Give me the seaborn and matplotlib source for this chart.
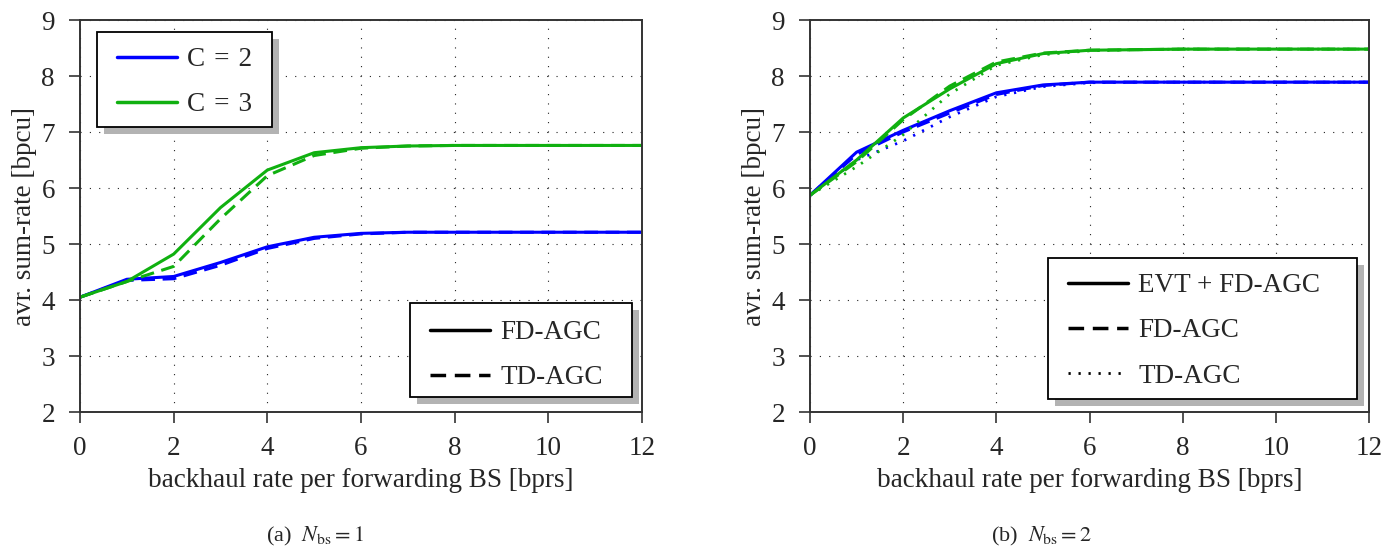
import matplotlib
matplotlib.use('Agg')
import matplotlib.pyplot as plt
import numpy as np
import pandas as pd
import seaborn as sns
from matplotlib.lines import Line2D
from matplotlib.patches import Rectangle
from matplotlib.transforms import IdentityTransform

# backhaul rate per forwarding BS [bprs]
rate = [0, 1, 2, 3, 4, 5, 6, 7, 8, 9, 10, 11, 12]

# (a) N_bs = 1
a_c2_fd = [4.05, 4.37, 4.42, 4.67, 4.95, 5.12, 5.19, 5.21, 5.21, 5.21, 5.21, 5.21, 5.21]
a_c2_td = [4.05, 4.35, 4.38, 4.62, 4.92, 5.10, 5.18, 5.21, 5.21, 5.21, 5.21, 5.21, 5.21]
a_c3_fd = [4.05, 4.33, 4.82, 5.65, 6.32, 6.63, 6.72, 6.75, 6.76, 6.76, 6.76, 6.76, 6.76]
a_c3_td = [4.05, 4.33, 4.60, 5.45, 6.22, 6.58, 6.71, 6.75, 6.76, 6.76, 6.76, 6.76, 6.76]

# (b) N_bs = 2
b_c2_evt = [5.87, 6.64, 7.03, 7.38, 7.70, 7.84, 7.89, 7.89, 7.89, 7.89, 7.89, 7.89, 7.89]
b_c2_fd = [5.87, 6.60, 7.00, 7.34, 7.67, 7.83, 7.89, 7.89, 7.89, 7.89, 7.89, 7.89, 7.89]
b_c2_td = [5.87, 6.50, 6.84, 7.27, 7.63, 7.81, 7.88, 7.89, 7.89, 7.89, 7.89, 7.89, 7.89]
b_c3_evt = [5.87, 6.50, 7.25, 7.77, 8.22, 8.40, 8.46, 8.47, 8.48, 8.48, 8.48, 8.48, 8.48]
b_c3_fd = [5.87, 6.47, 7.22, 7.82, 8.25, 8.41, 8.46, 8.47, 8.48, 8.48, 8.48, 8.48, 8.48]
b_c3_td = [5.87, 6.38, 6.95, 7.68, 8.19, 8.38, 8.45, 8.47, 8.48, 8.48, 8.48, 8.48, 8.48]

c_labels = ['C\u2004=\u20042', 'C\u2004=\u20043']
style_labels_a = ['FD-AGC', 'TD-AGC']
style_labels_b = ['EVT + FD-AGC', 'FD-AGC', 'TD-AGC']

blue = '#0000ff'
green = '#10b010'
styles = {'solid': '-', 'dash': (0, (4.5, 2.5)), 'dot': (0, (0.8, 2.8))}
widths = {'solid': 2.2, 'dash': 2.2, 'dot': 2.0}

sns.set_style('white')
plt.rcParams['font.family'] = ['Liberation Serif', 'DejaVu Serif']
plt.rcParams['mathtext.fontset'] = 'stix'

W, H = 1395, 547
fig = plt.figure(figsize=(W / 100, H / 100), dpi=100)
ax1 = fig.add_axes([80 / W, 1 - 412 / H, 562 / W, 392 / H])
ax2 = fig.add_axes([810 / W, 1 - 412 / H, 559 / W, 392 / H])


def draw(ax, y, color, st):
    sns.lineplot(x=rate, y=y, color=color, linewidth=widths[st], ax=ax, legend=False)
    ax.lines[-1].set_linestyle(styles[st])


draw(ax1, a_c2_fd, blue, 'solid')
draw(ax1, a_c2_td, blue, 'dash')
draw(ax1, a_c3_fd, green, 'solid')
draw(ax1, a_c3_td, green, 'dash')

draw(ax2, b_c2_evt, blue, 'solid')
draw(ax2, b_c2_fd, blue, 'dash')
draw(ax2, b_c2_td, blue, 'dot')
draw(ax2, b_c3_evt, green, 'solid')
draw(ax2, b_c3_fd, green, 'dash')
draw(ax2, b_c3_td, green, 'dot')

for ax in (ax1, ax2):
    ax.set_xlim(0, 12)
    ax.set_ylim(2, 9)
    ax.set_xticks(range(0, 13, 2))
    ax.set_yticks(range(2, 10))
    ax.grid(True, color='#222222', linestyle=(0, (1, 7.4)), linewidth=0.8)
    ax.tick_params(direction='out', length=8, width=1.2, labelsize=19.5, color='#333333',
                   bottom=True, left=True)
    ax.tick_params(axis='x', pad=9)
    ax.tick_params(axis='y', pad=10)
    for s in ax.spines.values():
        s.set_color('#333333')
        s.set_linewidth(1.4)
    ax.set_xlabel('backhaul rate per forwarding BS [bprs]', fontsize=19.5, labelpad=5)
    ax.set_ylabel('avr. sum-rate [bpcu]', fontsize=19.5, labelpad=3)

leg_kw = dict(fontsize=19.5, frameon=False, handlelength=2.2, handletextpad=0.4,
              borderpad=0, labelspacing=0.75, borderaxespad=0, loc='upper left')


def handle(st, color='black'):
    lw = 2.0 if st == 'dot' else 2.5
    return Line2D([], [], color=color, lw=lw, linestyle=styles[st])


def px(x, y):
    # figure pixel (from top-left) -> figure fraction
    return (x / W, 1 - y / H)


# legend boxes in pixels: (left, top, right, bottom)
box1 = (97, 32, 272, 127)
box2 = (410, 303, 632, 397)
box3 = (1048, 258, 1357, 399)

l1 = ax1.legend([handle('solid', blue), handle('solid', green)], c_labels,
                bbox_to_anchor=px(box1[0] + 20, box1[1] + 15), bbox_transform=fig.transFigure, **leg_kw)
ax1.add_artist(l1)
l2 = ax1.legend([handle('solid'), handle('dash')], style_labels_a,
                bbox_to_anchor=px(box2[0] + 20, box2[1] + 17), bbox_transform=fig.transFigure, **leg_kw)
l3 = ax2.legend([handle('solid'), handle('dash'), handle('dot')], style_labels_b,
                bbox_to_anchor=px(box3[0] + 20, box3[1] + 15), bbox_transform=fig.transFigure, **leg_kw)
for leg in (l1, l2, l3):
    leg.set_zorder(7)

# framed boxes with pgfplots-like drop shadow
for ax, (x0, y0, x1, y1) in ((ax1, box1), (ax1, box2), (ax2, box3)):
    w, h = x1 - x0, y1 - y0
    ax.add_artist(Rectangle((x0 + 7, H - y1 - 7), w, h, transform=IdentityTransform(),
                            facecolor='#b3b3b3', edgecolor='none', zorder=5.5, clip_on=False))
    ax.add_artist(Rectangle((x0, H - y1), w, h, transform=IdentityTransform(),
                            facecolor='white', edgecolor='black', linewidth=1.3,
                            zorder=5.6, clip_on=False))

fig.text(315 / W, 1 - 536 / H, r'(a)  $N_{\mathrm{bs}} = 1$', ha='center', va='center', fontsize=16)
fig.text(1041 / W, 1 - 536 / H, r'(b)  $N_{\mathrm{bs}} = 2$', ha='center', va='center', fontsize=16)

fig.savefig('out.png', dpi=100)
